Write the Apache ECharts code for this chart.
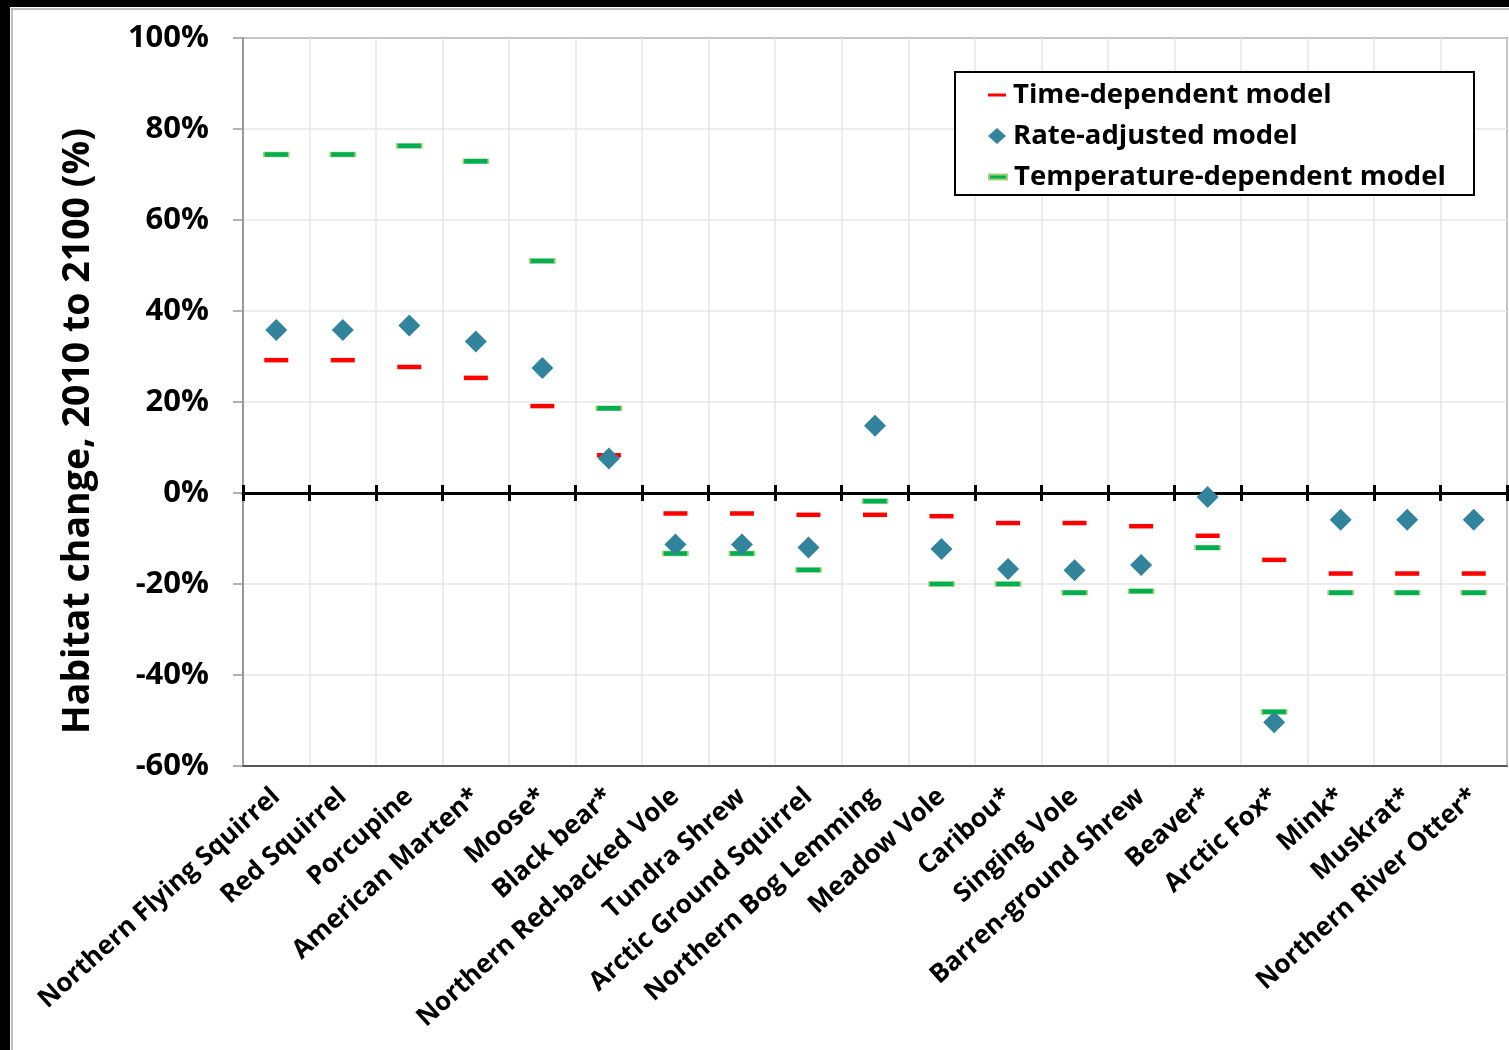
<!DOCTYPE html>
<html>
<head>
<meta charset="utf-8">
<script src="https://cdn.jsdelivr.net/npm/echarts@6/dist/echarts.min.js"></script>
<style>
html,body{margin:0;padding:0;background:#fff;}
#c{width:1509px;height:1050px;}
</style>
</head>
<body>
<div id="c"></div>
<script>
const categories = [
  'Northern Flying Squirrel','Red Squirrel','Porcupine','American Marten*','Moose*','Black bear*',
  'Northern Red-backed Vole','Tundra Shrew','Arctic Ground Squirrel','Northern Bog Lemming',
  'Meadow Vole','Caribou*','Singing Vole','Barren-ground Shrew','Beaver*','Arctic Fox*',
  'Mink*','Muskrat*','Northern River Otter*'
];
const timeDependent = [29.2, 29.2, 27.7, 25.3, 19.1, 8.3, -4.5, -4.5, -4.8, -4.8, -5.1, -6.6, -6.6, -7.3, -9.4, -14.7, -17.7, -17.7, -17.7];
const rateAdjusted = [35.8, 35.8, 36.8, 33.3, 27.5, 7.6, -11.3, -11.3, -12.0, 14.8, -12.3, -16.7, -17.0, -15.8, -0.9, -50.4, -5.9, -5.9, -5.9];
const temperatureDependent = [74.4, 74.4, 76.3, 72.9, 51.0, 18.6, -13.3, -13.3, -16.9, -1.8, -20.0, -20.0, -21.9, -21.6, -12.0, -48.1, -21.9, -21.9, -21.9];
const yTickValues = [-60, -40, -20, 0, 20, 40, 60, 80, 100];

const FONT = "'Open Sans', sans-serif";
const yMin = yTickValues[0], yMax = yTickValues[yTickValues.length - 1];
const yStep = yTickValues[1] - yTickValues[0];
const gridRect = {left: 243, top: 38, right: 2, bottom: 284};

const chart = echarts.init(document.getElementById('c'), null, {renderer: 'canvas'});

const legendBase = {
  orient: 'vertical', left: 988, padding: 0, itemWidth: 18, itemGap: 0,
  textStyle: {fontFamily: FONT, fontWeight: 'bold', fontSize: 27.5, color: '#000', lineHeight: 32, padding: [0, 0, 0, 2]},
  selectedMode: false
};

chart.setOption({
  backgroundColor: '#fff',
  animation: false,
  graphic: [
    {type: 'rect', shape: {x: 0, y: 0, width: 1509, height: 7}, style: {fill: '#000'}, z: 100},
    {type: 'rect', shape: {x: 0, y: 0, width: 10, height: 1050}, style: {fill: '#000'}, z: 100},
    {type: 'line', shape: {x1: 11, y1: 9, x2: 1509, y2: 9}, style: {stroke: '#aaa', lineWidth: 1.5}, z: 100},
    {type: 'line', shape: {x1: 12, y1: 9, x2: 12, y2: 1050}, style: {stroke: '#aaa', lineWidth: 1.5}, z: 100},
    {type: 'rect', shape: {x: 955, y: 72, width: 519, height: 123}, style: {fill: '#fff', stroke: '#000', lineWidth: 2}, z: 5}
  ],
  legend: [
    Object.assign({}, legendBase, {data: ['Time-dependent model'], top: 79, itemHeight: 3}),
    Object.assign({}, legendBase, {data: ['Rate-adjusted model'], top: 120, itemHeight: 16}),
    Object.assign({}, legendBase, {data: ['Temperature-dependent model'], top: 161, itemHeight: 5})
  ].map(l => Object.assign(l, {z: 10})),
  grid: [
    Object.assign({show: true, borderColor: '#333', borderWidth: 1.5, backgroundColor: 'transparent'}, gridRect),
    Object.assign({show: false}, gridRect)
  ],
  xAxis: [
    {
      type: 'category', gridIndex: 0, data: categories, position: 'bottom',
      axisLine: {onZero: false, lineStyle: {color: '#333', width: 1.5}},
      axisTick: {show: false},
      splitLine: {show: true, interval: 0, lineStyle: {color: '#e6e6e6', width: 1.5}},
      axisLabel: {
        interval: 0, rotate: 42, margin: 27,
        fontFamily: FONT, fontWeight: 'bold', fontSize: 26, color: '#000'
      }
    },
    {
      type: 'category', gridIndex: 0, data: categories, position: 'top',
      axisLine: {onZero: true, onZeroAxisIndex: 0, lineStyle: {color: '#000', width: 3}},
      axisTick: {show: true, interval: 0, length: 8, lineStyle: {color: '#000', width: 3}},
      axisLabel: {show: false, interval: 0},
      splitLine: {show: false}
    },
    {
      type: 'category', gridIndex: 1, data: categories, position: 'bottom',
      axisLine: {onZero: true, onZeroAxisIndex: 1, lineStyle: {color: '#000', width: 3}},
      axisTick: {show: true, interval: 0, length: 8, lineStyle: {color: '#000', width: 3}},
      axisLabel: {show: false, interval: 0},
      splitLine: {show: false}
    }
  ],
  yAxis: [
    {
      type: 'value', gridIndex: 0, min: yMin, max: yMax, interval: yStep,
      name: 'Habitat change, 2010 to 2100 (%)', nameLocation: 'middle', nameGap: 146,
      nameTextStyle: {fontFamily: FONT, fontWeight: 'bold', fontSize: 37.5, color: '#000', padding: [0, 58, 0, 0]},
      axisLine: {show: true, onZero: false, lineStyle: {color: '#999', width: 2}},
      axisTick: {show: true, length: 10, lineStyle: {color: '#999', width: 1.5}},
      splitLine: {show: true, lineStyle: {color: '#e6e6e6', width: 1.5}},
      axisLabel: {
        margin: 34, formatter: '{value}%',
        fontFamily: FONT, fontWeight: 'bold', fontSize: 31, color: '#000'
      }
    },
    {
      type: 'value', gridIndex: 1, min: yMin, max: yMax, interval: yStep,
      axisLine: {show: false}, axisTick: {show: false}, axisLabel: {show: false}, splitLine: {show: false}
    }
  ],
  series: [
    {
      name: 'Temperature-dependent model', type: 'scatter', xAxisIndex: 0, yAxisIndex: 0,
      data: temperatureDependent, symbol: 'rect', symbolSize: [25, 5], z: 3,
      itemStyle: {color: '#00B050', borderColor: '#A6CF7A', borderWidth: 0.8, opacity: 1}
    },
    {
      name: 'Time-dependent model', type: 'scatter', xAxisIndex: 0, yAxisIndex: 0,
      data: timeDependent, symbol: 'rect', symbolSize: [24, 4.5], z: 4,
      itemStyle: {color: '#FF0000', opacity: 1}
    },
    {
      name: 'Rate-adjusted model', type: 'scatter', xAxisIndex: 0, yAxisIndex: 0,
      data: rateAdjusted, symbol: 'diamond', symbolSize: [22, 22], z: 5,
      itemStyle: {color: '#31849B', opacity: 1}
    }
  ]
});
</script>
</body>
</html>
